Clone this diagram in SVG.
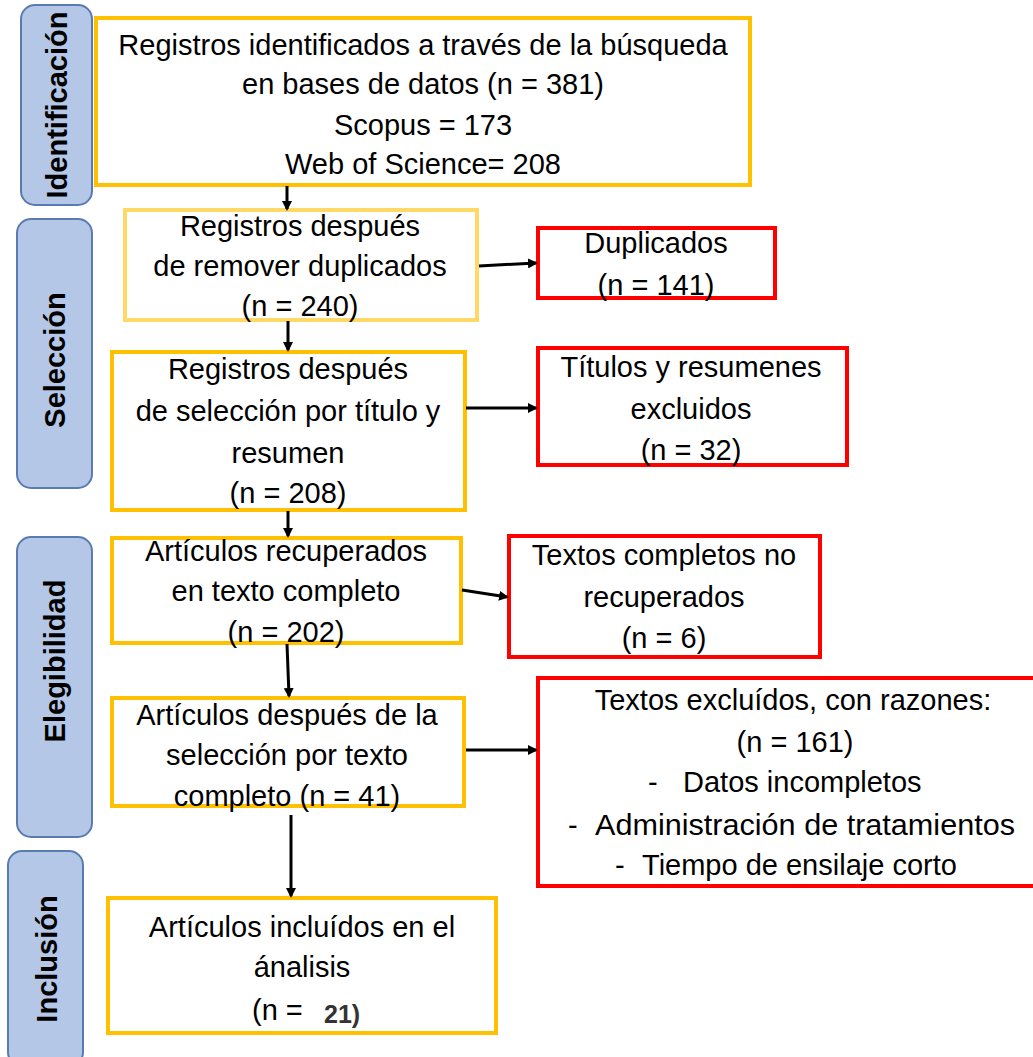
<svg xmlns="http://www.w3.org/2000/svg" width="1033" height="1057" viewBox="0 0 1033 1057">
<defs>
<marker id="ah" markerWidth="10" markerHeight="10" refX="8" refY="5" orient="auto" markerUnits="userSpaceOnUse"><path d="M0,0 L10,5 L0,10 z" fill="#000"/></marker>
<style>
.side{fill:#b4c7e7;stroke:#5a7bb2;stroke-width:2}
.sl{font-family:"Liberation Sans",Arial,sans-serif;font-weight:bold;font-size:29px;fill:#000;text-anchor:middle}
.yb{fill:#fff;stroke:#ffc000;stroke-width:4}
.yb2{fill:#fff;stroke:#ffd966;stroke-width:4}
.rb{fill:#fff;stroke:#ff0000;stroke-width:4}
.t{font-family:"Liberation Sans",Arial,sans-serif;font-size:29px;fill:#000;text-anchor:middle}
.s{font-family:"Liberation Sans",Arial,sans-serif;font-size:29px;fill:#000}
.c{stroke:#000;stroke-width:3;fill:none;marker-end:url(#ah)}
</style>
</defs>
<rect width="1033" height="1057" fill="#fff"/>
<g id="stage-identificacion"><rect class="side" x="21" y="5" width="71" height="200" rx="14"/><text class="sl" transform="translate(67,105) rotate(-90)">Identificación</text></g>
<g id="stage-seleccion"><rect class="side" x="17" y="219" width="75" height="269" rx="14"/><text class="sl" transform="translate(65,360) rotate(-90)">Selección</text></g>
<g id="stage-elegibilidad"><rect class="side" x="17" y="537" width="75" height="300" rx="14"/><text class="sl" transform="translate(65,661) rotate(-90)">Elegibilidad</text></g>
<g id="stage-inclusion"><rect class="side" x="8" y="851" width="75" height="215" rx="14"/><text class="sl" transform="translate(57,959) rotate(-90)">Inclusión</text></g>

<g id="n1"><rect class="yb" x="96" y="18" width="654" height="167"/>
<text class="t" x="423" y="55">Registros identificados a través de la búsqueda</text>
<text class="t" x="423" y="94">en bases de datos (n = 381)</text>
<text class="t" x="423" y="135">Scopus = 173</text>
<text class="t" x="423" y="174">Web of Science= 208</text></g>
<g id="n2"><rect class="yb2" x="125" y="210" width="352" height="110"/>
<text class="t" x="300" y="236">Registros después</text>
<text class="t" x="300" y="276">de remover duplicados</text>
<text class="t" x="300" y="316">(n = 240)</text></g>
<g id="n3"><rect class="yb" x="112" y="352" width="353" height="158"/>
<text class="t" x="288" y="379">Registros después</text>
<text class="t" x="288" y="421">de selección por título y</text>
<text class="t" x="288" y="463">resumen</text>
<text class="t" x="288" y="503">(n = 208)</text></g>
<g id="n4"><rect class="yb" x="112" y="538" width="349" height="105"/>
<text class="t" x="286" y="561">Artículos recuperados</text>
<text class="t" x="286" y="601">en texto completo</text>
<text class="t" x="286" y="642">(n = 202)</text></g>
<g id="n5"><rect class="yb" x="112" y="698" width="352" height="108"/>
<text class="t" x="287" y="725">Artículos después de la</text>
<text class="t" x="287" y="765">selección por texto</text>
<text class="t" x="287" y="806">completo (n = 41)</text></g>
<g id="n6"><rect class="yb" x="108" y="898" width="388" height="135"/>
<text class="t" x="302" y="937">Artículos incluídos en el</text>
<text class="t" x="302" y="977">ánalisis</text>
<text class="s" x="252" y="1020">(n = </text>
<text x="324" y="1023" style="font-family:'Liberation Sans',Arial,sans-serif;font-weight:bold;font-size:25px;fill:#333">21)</text></g>

<g id="r1"><rect class="rb" x="538" y="228" width="237" height="70"/>
<text class="t" x="656" y="253">Duplicados</text>
<text class="t" x="656" y="295">(n = 141)</text></g>
<g id="r2"><rect class="rb" x="538" y="348" width="309" height="117"/>
<text class="t" x="691" y="377">Títulos y resumenes</text>
<text class="t" x="691" y="419">excluidos</text>
<text class="t" x="691" y="460">(n = 32)</text></g>
<g id="r3"><rect class="rb" x="509" y="536" width="311" height="121"/>
<text class="t" x="664" y="565">Textos completos no</text>
<text class="t" x="664" y="607">recuperados</text>
<text class="t" x="664" y="648">(n = 6)</text></g>
<g id="r4"><rect class="rb" x="538" y="678" width="500" height="208"/>
<text class="t" x="793" y="710">Textos excluídos, con razones:</text>
<text class="t" x="795" y="752">(n = 161)</text>
<text class="s" x="648" y="792">-</text><text class="s" x="683" y="792">Datos incompletos</text>
<text class="s" x="568" y="835">-</text><text class="s" x="595" y="835" textLength="420" lengthAdjust="spacingAndGlyphs">Administración de tratamientos</text>
<text class="s" x="615" y="875">-</text><text class="s" x="642" y="875">Tiempo de ensilaje corto</text></g>

<g id="connectors">
<line class="c" x1="287" y1="186" x2="287" y2="209"/>
<line class="c" x1="288" y1="321" x2="288" y2="350"/>
<line class="c" x1="288" y1="511" x2="288" y2="536"/>
<line class="c" x1="287" y1="644" x2="289" y2="696"/>
<line class="c" x1="291" y1="815" x2="291" y2="896"/>
<line class="c" x1="479" y1="266" x2="536" y2="263"/>
<line class="c" x1="466" y1="408" x2="536" y2="408"/>
<line class="c" x1="462" y1="590" x2="507" y2="597"/>
<line class="c" x1="466" y1="750" x2="536" y2="750"/>
</g>
</svg>
